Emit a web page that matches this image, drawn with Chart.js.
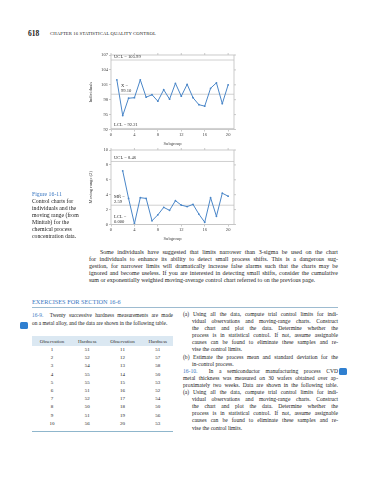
<!DOCTYPE html>
<html><head><meta charset="utf-8">
<script src="https://cdn.jsdelivr.net/npm/chart.js@4/dist/chart.umd.min.js"></script>
<style>
html,body{margin:0;padding:0;background:#fff;}
body{width:365px;height:480px;position:relative;overflow:hidden;font-family:"Liberation Serif","DejaVu Serif",serif;color:#222;}
.abs{position:absolute;}
.ln{white-space:nowrap;}
.j{text-align:justify;text-align-last:justify;white-space:nowrap;}
canvas{position:absolute;}
.blue{color:#3b78c2;}
table{border-collapse:collapse;}
</style></head>
<body>
<div class="abs" style="left:28px;top:29px;font-size:7.5px;font-weight:bold;">618</div>
<div class="abs ln" style="left:50px;top:30.5px;font-size:4.7px;letter-spacing:0.1px;">CHAPTER 16 STATISTICAL QUALITY CONTROL</div>

<canvas id="c1" width="152" height="102" style="left:88px;top:45px;"></canvas>
<canvas id="c2" width="152" height="102" style="left:88px;top:140px;"></canvas>

<div class="abs" style="left:32px;top:191px;font-size:5.8px;line-height:7px;">
<div class="blue">Figure 16-11</div>
<div>Control charts for</div>
<div>individuals and the</div>
<div>moving range (from</div>
<div>Minitab) for the</div>
<div>chemical process</div>
<div>concentration data.</div>
</div>

<div class="abs" style="left:89px;top:249px;width:249px;font-size:6px;line-height:7px;">
<div class="j" style="padding-left:11px;">Some individuals have suggested that limits narrower than 3-sigma be used on the chart</div>
<div class="j">for individuals to enhance its ability to detect small process shifts. This is a dangerous sug-</div>
<div class="j">gestion, for narrower limits will dramatically increase false alarms such that the charts may be</div>
<div class="j">ignored and become useless. If you are interested in detecting small shifts, consider the cumulative</div>
<div class="ln">sum or exponentially weighted moving-average control chart referred to on the previous page.</div>
</div>

<div class="abs ln blue" style="left:32px;top:298px;font-size:6.3px;">EXERCISES FOR SECTION 16-6</div>
<div class="abs" style="left:32px;top:307px;width:306px;height:0.7px;background:#9dbbd0;"></div>

<div class="abs" style="left:20px;top:322px;width:8px;height:7px;border-radius:1.5px;background:#2f7fd0;"></div>
<div class="abs" style="left:32px;top:311px;width:141px;font-size:5.4px;line-height:8px;">
<div class="j"><span class="blue">16-9.</span>&nbsp; Twenty successive hardness measurements are made</div>
<div class="ln">on a metal alloy, and the data are shown in the following table.</div>
</div>

<div class="abs" style="left:32px;top:336px;width:141px;height:10px;background:#dbe8f2;"></div>
<table id="tbl" class="abs" style="left:32px;top:336px;width:141px;font-size:5px;"></table>
<div class="abs" style="left:32px;top:431px;width:141px;height:0.8px;background:#8fb6cc;"></div>

<div class="abs" style="left:183px;top:311px;width:155px;font-size:5.6px;line-height:7.1px;">
<div class="j">(a) Using all the data, compute trial control limits for indi-</div>
<div class="j" style="padding-left:9px;">vidual observations and moving-range charts. Construct</div>
<div class="j" style="padding-left:9px;">the chart and plot the data. Determine whether the</div>
<div class="j" style="padding-left:9px;">process is in statistical control. If not, assume assignable</div>
<div class="j" style="padding-left:9px;">causes can be found to eliminate these samples and re-</div>
<div class="ln" style="padding-left:9px;">vise the control limits.</div>
<div class="j">(b) Estimate the process mean and standard deviation for the</div>
<div class="ln" style="padding-left:9px;">in-control process.</div>
<div class="j"><span class="blue">16-10.</span>&nbsp; In a semiconductor manufacturing process CVD</div>
<div class="j">metal thickness was measured on 30 wafers obtained over ap-</div>
<div class="j">proximately two weeks. Data are shown in the following table.</div>
<div class="j">(a) Using all the data, compute trial control limits for indi-</div>
<div class="j" style="padding-left:9px;">vidual observations and moving-range charts. Construct</div>
<div class="j" style="padding-left:9px;">the chart and plot the data. Determine whether the</div>
<div class="j" style="padding-left:9px;">process is in statistical control. If not, assume assignable</div>
<div class="j" style="padding-left:9px;">causes can be found to eliminate these samples and re-</div>
<div class="ln" style="padding-left:9px;">vise the control limits.</div>
</div>
<div class="abs" style="left:339px;top:368px;width:8px;height:7px;border-radius:1.5px;background:#2f7fd0;"></div>

<script>
// ---- data ----
const subgroups = [1,2,3,4,5,6,7,8,9,10,11,12,13,14,15,16,17,18,19,20];
const individuals = [102.0,94.8,98.3,98.4,102.0,98.5,99.0,97.7,100.0,98.1,101.3,98.7,101.1,98.4,97.0,96.7,100.3,101.4,97.2,101.0];
const movingRanges = [null,7.2,3.5,0.1,3.6,3.5,0.5,1.3,2.3,1.9,3.2,2.6,2.4,2.7,1.4,0.3,3.6,1.1,4.2,3.8];
const xTicks = [0,4,8,12,16,20];
const indTicks = [92,95,98,101,104,107];
const mrTicks = [0,2,4,6,8,10];
const indLimits = [105.99, 99.10, 92.21];   // UCL, center, LCL
const mrLimits = [8.46, 2.59, 0];           // UCL, center, LCL

const obsA = [1,2,3,4,5,6,7,8,9,10];
const hardA = [51,52,54,55,55,51,52,50,51,56];
const obsB = [11,12,13,14,15,16,17,18,19,20];
const hardB = [51,57,58,50,53,52,54,50,56,53];

// ---- table ----
(function(){
  const t = document.getElementById('tbl');
  const cs = 'text-align:center;padding:0;';
  let h = '<tr style="height:10px;color:#333;"><td style="'+cs+'">Observation</td><td style="'+cs+'">Hardness</td><td style="'+cs+'">Observation</td><td style="'+cs+'">Hardness</td></tr>';
  for (let i=0;i<obsA.length;i++){
    h += '<tr style="height:8.2px;line-height:8.2px;"><td style="'+cs+'">'+obsA[i]+'</td><td style="'+cs+'">'+hardA[i]+'</td><td style="'+cs+'">'+obsB[i]+'</td><td style="'+cs+'">'+hardB[i]+'</td></tr>';
  }
  t.innerHTML = h;
})();

// ---- charts ----
const XMAX = 21;
const FONT = '"Liberation Serif", serif';
const frameColor = '#bdbdbd';

const framePlugin = {
  id: 'frame',
  afterDraw(chart, args, opts) {
    const {ctx, chartArea: a, scales: {x, y}} = chart;
    ctx.save();
    ctx.strokeStyle = frameColor; ctx.lineWidth = 0.8;
    ctx.strokeRect(a.left, a.top, a.right - a.left, a.bottom - a.top);
    xTicks.forEach(v => { const p = x.getPixelForValue(v); ctx.beginPath(); ctx.moveTo(p, a.top); ctx.lineTo(p, a.top - 2); ctx.stroke(); });
    opts.yTicks.forEach(v => { const p = y.getPixelForValue(v); ctx.beginPath(); ctx.moveTo(a.right, p); ctx.lineTo(a.right + 2, p); ctx.stroke(); });
    ctx.fillStyle = '#333';
    ctx.font = '4.6px ' + FONT;
    ctx.textBaseline = 'alphabetic';
    opts.labels.forEach(l => {
      ctx.fillText(l.text, a.left + l.dx, y.getPixelForValue(l.v) + l.dy);
    });
    ctx.restore();
  }
};

function limitSet(v) {
  return { data: [{x: 0, y: v}, {x: XMAX, y: v}], borderColor: '#c4c4c4', borderWidth: 0.8, pointRadius: 0, order: 2 };
}

function makeChart(id, values, lims, yMin, yMax, yTickList, yTitle, labels) {
  const pts = subgroups.map((s, i) => ({x: s, y: values[i]})).filter(p => p.y !== null);
  return new Chart(document.getElementById(id), {
    type: 'line',
    data: { datasets: [
      { data: pts, borderColor: '#4a86c8', backgroundColor: '#4a86c8', borderWidth: 1, pointRadius: 0.9, pointBorderWidth: 0, tension: 0, order: 1 },
      limitSet(lims[0]), limitSet(lims[1]), limitSet(lims[2])
    ]},
    options: {
      responsive: false, animation: false, devicePixelRatio: 1,
      layout: { padding: { top: 10, right: 6, left: 0, bottom: 0 } },
      plugins: { legend: { display: false }, tooltip: { enabled: false },
        frame: { yTicks: yTickList, labels: labels } },
      scales: {
        x: { type: 'linear', min: 0, max: XMAX,
          afterBuildTicks: s => { s.ticks = xTicks.map(v => ({value: v})); },
          afterFit: s => { s.height = 17.5; },
          grid: { drawOnChartArea: false, tickLength: 2, color: frameColor, lineWidth: 0.8 },
          border: { display: false },
          ticks: { font: { size: 4.6, family: FONT }, color: '#444', padding: 1, maxRotation: 0, autoSkip: false },
          title: { display: true, text: 'Subgroup', font: { size: 4.6, family: FONT }, color: '#444', padding: { top: 0.5, bottom: 0 } }
        },
        y: { min: yMin, max: yMax,
          afterBuildTicks: s => { s.ticks = yTickList.map(v => ({value: v})); },
          afterFit: s => { s.width = 23; },
          grid: { drawOnChartArea: false, tickLength: 2, color: frameColor, lineWidth: 0.8 },
          border: { display: false },
          ticks: { font: { size: 4.6, family: FONT }, color: '#444', padding: 1 },
          title: { display: true, text: yTitle, font: { size: 4.6, family: FONT }, color: '#444', padding: { top: 0, bottom: 1 } }
        }
      }
    },
    plugins: [framePlugin]
  });
}

makeChart('c1', individuals, indLimits, 92, 107, indTicks, 'Individuals', [
  { text: 'UCL = ' + indLimits[0].toFixed(2), v: indLimits[0], dx: 3, dy: -2 },
  { text: 'X\u0304 =', v: indLimits[1], dx: 10, dy: -7 },
  { text: indLimits[1].toFixed(2), v: indLimits[1], dx: 10, dy: -2 },
  { text: 'LCL = ' + indLimits[2].toFixed(2), v: indLimits[2], dx: 3, dy: -2 }
]);
makeChart('c2', movingRanges, mrLimits, 0, 10, mrTicks, 'Moving range (2)', [
  { text: 'UCL = ' + mrLimits[0].toFixed(2), v: mrLimits[0], dx: 3, dy: -2 },
  { text: 'MR\u0304 =', v: mrLimits[1], dx: 3, dy: -7 },
  { text: mrLimits[1].toFixed(2), v: mrLimits[1], dx: 3, dy: -2 },
  { text: 'LCL =', v: mrLimits[2], dx: 3, dy: -7 },
  { text: mrLimits[2].toFixed(3), v: mrLimits[2], dx: 3, dy: -2 }
]);
</script>
</body></html>
